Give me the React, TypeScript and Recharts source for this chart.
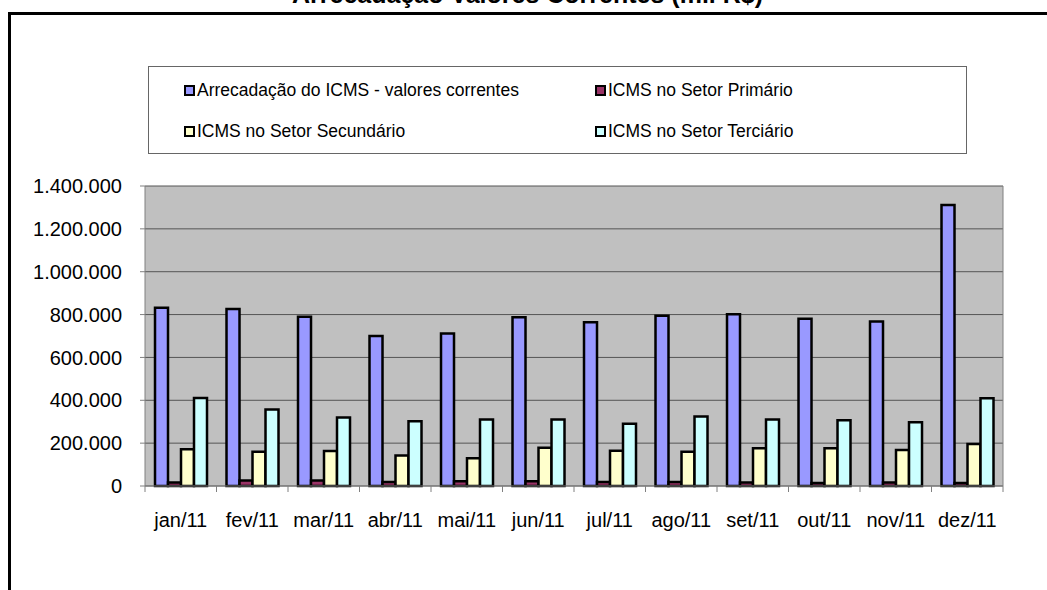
import React from 'react'
import { BarChart, Bar, XAxis, YAxis, CartesianGrid } from 'recharts'

// months (categories)
const months = ['jan/11', 'fev/11', 'mar/11', 'abr/11', 'mai/11', 'jun/11', 'jul/11', 'ago/11', 'set/11', 'out/11', 'nov/11', 'dez/11']

// series values in mil R$
const arrecadacao = [832000, 826000, 790000, 700000, 712000, 787000, 764000, 795000, 801000, 781000, 768000, 1311000]
const primario = [16000, 26000, 26000, 19000, 22000, 22000, 19000, 19000, 16000, 14000, 16000, 14000]
const secundario = [171000, 160000, 163000, 142000, 129000, 179000, 165000, 160000, 176000, 176000, 168000, 196000]
const terciario = [411000, 357000, 320000, 302000, 310000, 310000, 291000, 324000, 310000, 307000, 298000, 409000]

const yTicks = [0, 200000, 400000, 600000, 800000, 1000000, 1200000, 1400000]

const seriesNames = [
  'Arrecadação do ICMS - valores correntes',
  'ICMS no Setor Primário',
  'ICMS no Setor Secundário',
  'ICMS no Setor Terciário',
]
const seriesColors = ['#9999FF', '#993366', '#FFFFCC', '#CCFFFF']
const seriesKeys = ['arrecadacao', 'primario', 'secundario', 'terciario']

const data = months.map((m, i) => ({
  month: m,
  arrecadacao: arrecadacao[i],
  primario: primario[i],
  secundario: secundario[i],
  terciario: terciario[i],
}))

const FONT = 'Arial, "Liberation Sans", sans-serif'
const W = 1047
const H = 590
const M = { top: 186, right: 43, bottom: 64, left: 0 }
const Y_WIDTH = 145
const BAND = (W - M.left - M.right - Y_WIDTH - 1) / months.length

const fmt = (v: number) => String(v).replace(/\B(?=(\d{3})+(?!\d))/g, '.')

function MonthTick(props: any) {
  const { x, y, payload, index } = props
  const left = x - BAND / 2
  return (
    <g>
      <line x1={left} y1={y} x2={left} y2={y + 6} stroke="#808080" />
      {index === months.length - 1 && (
        <line x1={x + BAND / 2} y1={y} x2={x + BAND / 2} y2={y + 6} stroke="#808080" />
      )}
      <text x={x} y={y + 34} textAnchor="middle" dominantBaseline="central" fontSize={20} fontFamily={FONT} fill="#000">
        {payload.value}
      </text>
    </g>
  )
}

// legend box drawn as html over the chart
function LegendBox() {
  return (
    <div
      style={{
        position: 'absolute',
        left: 148,
        top: 66,
        width: 819,
        height: 88,
        border: '1px solid #666',
        background: '#fff',
        boxSizing: 'border-box',
        fontFamily: FONT,
        fontSize: 17.5,
        lineHeight: '20px',
      }}
    >
      {seriesNames.map((name, i) => (
        <div
          key={name}
          style={{
            position: 'absolute',
            left: i % 2 === 0 ? 35 : 446,
            top: i < 2 ? 13 : 54,
            display: 'flex',
            alignItems: 'center',
            whiteSpace: 'nowrap',
          }}
        >
          <span
            style={{
              display: 'inline-block',
              width: 7,
              height: 7,
              border: '2px solid #000',
              background: seriesColors[i],
              marginRight: 2,
            }}
          />
          {name}
        </div>
      ))}
    </div>
  )
}

export default function App() {
  return (
    <div style={{ position: 'fixed', left: 0, top: 0, width: W, height: H, overflow: 'hidden', background: '#fff' }}>
      <div
        style={{
          position: 'absolute',
          left: 8,
          top: 12,
          width: 1100,
          height: 700,
          border: '3px solid #000',
        }}
      />
      <div
        style={{
          position: 'absolute',
          left: 0,
          width: 1055,
          top: -18,
          textAlign: 'center',
          fontFamily: FONT,
          fontWeight: 'bold',
          fontSize: 25,
          lineHeight: '25px',
        }}
      >
        Arrecadação Valores Correntes (mil R$)
      </div>
      <div style={{ position: 'absolute', left: 0, top: 0 }}>
        <BarChart width={W} height={H} data={data} margin={M} barCategoryGap="14%" barGap={0}>
          <CartesianGrid fill="#C0C0C0" vertical={false} stroke="#555" strokeOpacity={1} />
          <XAxis
            dataKey="month"
            tick={<MonthTick />}
            tickLine={false}
            tickSize={0}
            tickMargin={0}
            axisLine={{ stroke: '#808080' }}
            height={40}
            interval={0}
          />
          <YAxis
            width={Y_WIDTH}
            domain={[0, 1400000]}
            ticks={yTicks}
            tickFormatter={fmt}
            tick={{ fontSize: 20, fontFamily: FONT, fill: '#000' }}
            tickLine={{ stroke: '#808080' }}
            tickSize={5}
            tickMargin={18}
            axisLine={{ stroke: '#808080' }}
            interval={0}
          />
          <YAxis
            yAxisId="right"
            orientation="right"
            width={1}
            domain={[0, 1400000]}
            tick={false}
            tickLine={false}
            axisLine={{ stroke: '#808080' }}
          />
          {seriesKeys.map((k, i) => (
            <Bar
              key={k}
              dataKey={k}
              name={seriesNames[i]}
              fill={seriesColors[i]}
              stroke="#000"
              strokeWidth={2.5}
              isAnimationActive={false}
            />
          ))}
        </BarChart>
      </div>
      <LegendBox />
    </div>
  )
}
